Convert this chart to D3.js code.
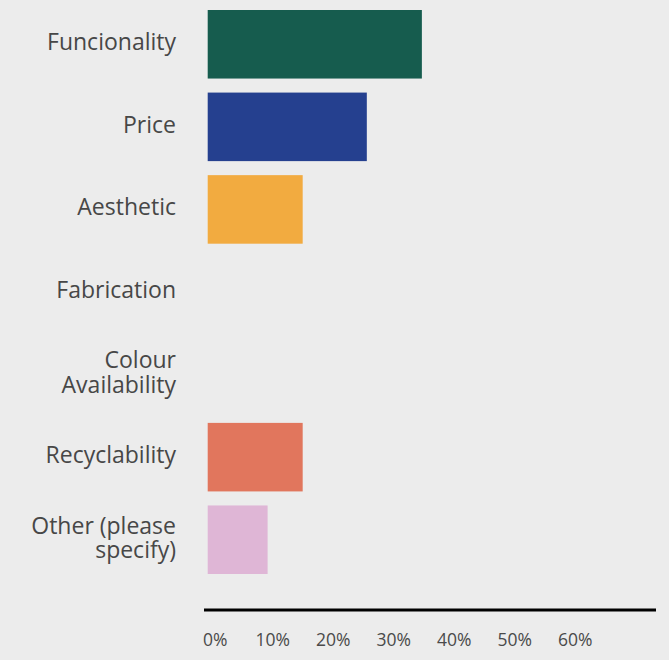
<!DOCTYPE html>
<html>
<head>
<meta charset="utf-8">
<script src="https://cdn.jsdelivr.net/npm/d3@7"></script>
<style>
  html, body { margin: 0; padding: 0; background: #ececec; }
  svg { display: block; font-family: "Open Sans", Lato, sans-serif; }
</style>
</head>
<body>
<svg id="chart" width="669" height="660"></svg>
<script>
// Survey: most important purchase factor (share of respondents)
const categories = ["Funcionality", "Price", "Aesthetic", "Fabrication", "Colour Availability", "Recyclability", "Other (please specify)"];
const values = [35.4, 26.3, 15.7, 0, 0, 15.7, 9.9];
const colors = ["#165c4e", "#25408f", "#f2ab40", "#9c9c9c", "#9c9c9c", "#e1765d", "#dfb6d6"];
const tickValues = [0, 10, 20, 30, 40, 50, 60];

const svg = d3.select("#chart");
const W = 669, H = 660;

svg.append("rect").attr("width", W).attr("height", H).attr("fill", "#ececec");

const x = d3.scaleLinear().domain([0, 60]).range([207.7, 570.7]);
const y = d3.scaleBand().domain(categories).range([10, 574]).paddingInner(0.17).paddingOuter(0);

// Bars
svg.append("g").selectAll("rect")
  .data(categories)
  .join("rect")
  .attr("x", x(0))
  .attr("y", d => y(d))
  .attr("height", y.bandwidth())
  .attr("width", (d, i) => x(values[i]) - x(0))
  .attr("fill", (d, i) => colors[i]);

// Category labels, wrapped onto two lines when too wide
const labelG = svg.append("g");
const maxW = 150;
categories.forEach(cat => {
  const t = labelG.append("text")
    .attr("x", 176)
    .attr("text-anchor", "end")
    .attr("fill", "#474747")
    .attr("font-size", 23);
  t.text(cat);
  let lines = [cat];
  if (t.node().getComputedTextLength() > maxW) {
    const words = cat.split(" ");
    lines = [];
    let cur = [];
    words.forEach(w => {
      cur.push(w);
      t.text(cur.join(" "));
      if (t.node().getComputedTextLength() > maxW && cur.length > 1) {
        cur.pop();
        lines.push(cur.join(" "));
        cur = [w];
      }
    });
    lines.push(cur.join(" "));
  }
  t.text(null);
  const cy = y(cat) + y.bandwidth() / 2 - 2;
  const lh = 24.5;
  lines.forEach((ln, k) => {
    t.append("tspan")
      .attr("x", 176)
      .attr("y", cy + (k - (lines.length - 1) / 2) * lh)
      .attr("dy", "0.35em")
      .text(ln);
  });
});

// X axis
const axis = d3.axisBottom(x)
  .tickValues(tickValues)
  .tickFormat(d => d + "%")
  .tickSize(0)
  .tickPadding(0);

const axG = svg.append("g")
  .attr("transform", "translate(0,610)")
  .call(axis);

axG.select(".domain").remove();
axG.append("line")
  .attr("x1", 204).attr("x2", 656)
  .attr("y1", 0).attr("y2", 0)
  .attr("stroke", "#000")
  .attr("stroke-width", 3);

axG.selectAll(".tick text")
  .attr("font-family", "'Open Sans', Lato, sans-serif")
  .attr("font-size", 17.5)
  .attr("fill", "#4a4a4a")
  .attr("dx", d => d === 0 ? 7 : 4)
  .attr("y", 30)
  .attr("dy", "0.35em");
</script>
</body>
</html>
